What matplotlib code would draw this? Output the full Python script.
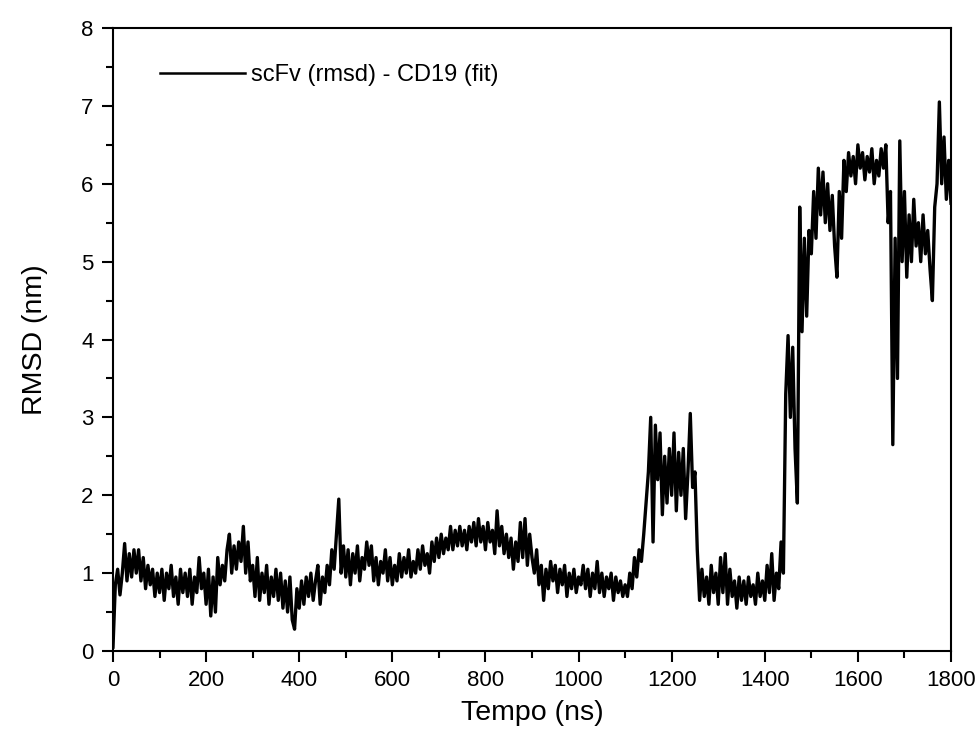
import numpy as np
import matplotlib
matplotlib.use("Agg")
import matplotlib.pyplot as plt
from matplotlib.ticker import MultipleLocator

plt.rcParams['font.family'] = ['Liberation Sans', 'DejaVu Sans']

step_ns = 5
rmsd = [
    0.05, 0.85, 1.05, 0.72, 1.0, 1.38, 0.9, 1.25, 0.95, 1.3,
    1.0, 1.3, 0.9, 1.2, 0.8, 1.1, 0.85, 1.05, 0.7, 1.0,
    0.75, 1.05, 0.65, 1.0, 0.8, 1.1, 0.7, 0.95, 0.6, 1.05,
    0.75, 1.0, 0.7, 1.05, 0.6, 0.95, 0.75, 1.2, 0.8, 1.0,
    0.6, 1.05, 0.45, 0.95, 0.5, 1.2, 0.85, 1.1, 0.9, 1.3,
    1.5, 1.0, 1.35, 1.05, 1.4, 1.15, 1.6, 1.0, 1.4, 0.9,
    1.1, 0.7, 1.2, 0.65, 1.0, 0.75, 1.1, 0.6, 0.95, 0.7,
    1.05, 0.65, 1.0, 0.55, 0.9, 0.5, 0.95, 0.4, 0.28, 0.8,
    0.55, 0.9, 0.6, 0.95, 0.7, 1.0, 0.65, 0.9, 1.1, 0.6,
    0.95, 0.75, 1.1, 0.85, 1.3, 1.05, 1.5, 1.95, 1.0, 1.35,
    0.95, 1.3, 0.85, 1.25, 1.0, 1.35, 0.9, 1.2, 1.05, 1.4,
    1.1, 1.35, 0.9, 1.2, 0.85, 1.15, 1.0, 1.3, 0.9, 1.2,
    0.85, 1.1, 0.9, 1.25, 0.95, 1.2, 1.0, 1.3, 0.95, 1.15,
    1.0, 1.3, 1.05, 1.35, 1.1, 1.25, 1.0, 1.4, 1.15, 1.45,
    1.2, 1.5, 1.25, 1.45, 1.3, 1.6, 1.3, 1.55, 1.35, 1.6,
    1.35, 1.55, 1.3, 1.6, 1.4, 1.65, 1.35, 1.7, 1.4, 1.6,
    1.3, 1.65, 1.4, 1.55, 1.25, 1.8, 1.35, 1.6, 1.25, 1.5,
    1.2, 1.45, 1.05, 1.4, 1.15, 1.65, 1.2, 1.7, 1.1, 1.5,
    1.2, 1.0, 1.3, 0.85, 1.1, 0.65, 1.05, 0.8, 1.15, 0.9,
    1.1, 0.75, 1.05, 0.85, 1.1, 0.7, 1.0, 0.8, 1.05, 0.75,
    0.95, 0.85, 1.1, 0.8, 1.05, 0.7, 1.0, 0.8, 1.15, 0.75,
    1.0, 0.7, 0.95, 0.8, 1.0, 0.65, 0.95, 0.75, 0.9, 0.7,
    0.85, 0.7, 1.0, 0.8, 1.2, 0.95, 1.3, 1.15, 1.5, 1.9,
    2.3, 3.0, 1.4, 2.9, 2.2, 2.8, 1.75, 2.5, 1.9, 2.6,
    2.0, 2.8, 1.8, 2.55, 2.0, 2.6, 1.7, 2.3, 3.05, 2.1,
    2.3, 1.3, 0.65, 1.05, 0.7, 0.95, 0.6, 1.1, 0.75, 1.0,
    0.6, 1.2, 0.75, 1.25, 0.6, 1.05, 0.7, 0.9, 0.55, 0.95,
    0.65, 0.9, 0.6, 0.95, 0.7, 0.85, 0.6, 1.0, 0.7, 0.9,
    0.65, 1.1, 0.75, 1.25, 0.65, 1.0, 0.8, 1.4, 1.0, 3.3,
    4.05, 3.0, 3.9, 2.6, 1.9, 5.7, 4.1, 5.3, 4.3, 5.4,
    5.1, 5.9, 5.3, 6.2, 5.6, 6.15, 5.5, 6.0, 5.4, 5.85,
    5.2, 4.8, 5.9, 5.3, 6.3, 5.9, 6.4, 6.1, 6.35, 6.0,
    6.5, 6.2, 6.4, 6.05, 6.35, 6.15, 6.45, 6.0, 6.3, 6.1,
    6.45, 6.2, 6.5, 5.5, 5.9, 2.65, 5.3, 3.5, 6.55, 5.0,
    5.9, 4.8, 5.6, 5.0, 5.8, 5.2, 5.5, 5.0, 5.6, 5.1,
    5.4, 4.9, 4.5, 5.7, 6.0, 7.05, 6.0, 6.6, 5.8, 6.3,
    5.75,
]
tempo = np.arange(len(rmsd)) * step_ns

x_ticks = [0, 200, 400, 600, 800, 1000, 1200, 1400, 1600, 1800]
y_ticks = [0, 1, 2, 3, 4, 5, 6, 7, 8]
series_label = "scFv (rmsd) - CD19 (fit)"

fig = plt.figure(figsize=(9.79, 7.40), dpi=100)
ax = fig.add_axes([113/979, 1 - 651/740, (951-113)/979, (651-28)/740])

ax.plot(tempo, rmsd, color='black', lw=2.4, label=series_label)

ax.set_xlim(0, 1800)
ax.set_ylim(0, 8)
ax.set_xticks(x_ticks)
ax.set_yticks(y_ticks)
ax.xaxis.set_minor_locator(MultipleLocator(100))
ax.yaxis.set_minor_locator(MultipleLocator(0.5))
ax.tick_params(which='major', direction='out', length=8, width=1.5, labelsize=16,
               top=False, right=False, pad=6)
ax.tick_params(which='minor', direction='out', length=5, width=1.5,
               top=False, right=False)
for s in ax.spines.values():
    s.set_linewidth(1.5)

ax.set_xlabel("Tempo (ns)", fontsize=20.5, labelpad=6)
ax.set_ylabel("RMSD (nm)", fontsize=20.5, labelpad=24)

leg = ax.legend(loc='center left', bbox_to_anchor=(0.056, 0.9246), frameon=False,
                fontsize=17, handlelength=3.6, handletextpad=0.25,
                borderpad=0, borderaxespad=0)
for h in leg.get_lines():
    h.set_linewidth(1.8)

fig.savefig("out.png", dpi=100)
